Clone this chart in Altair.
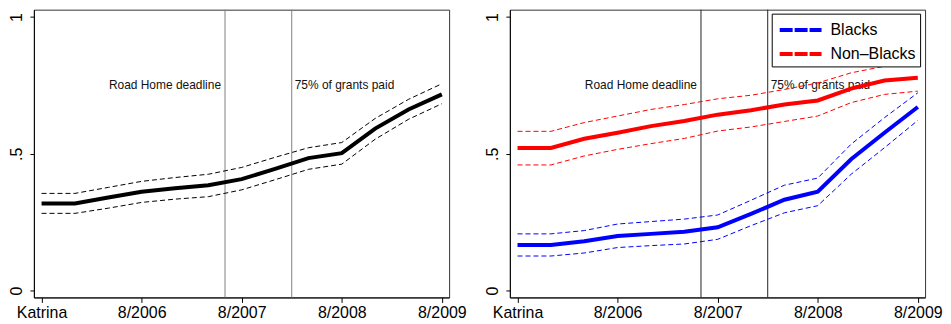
import altair as alt
import pandas as pd

# ---- data ----
months = [0, 4, 8, 12, 16, 20, 24, 28, 32, 36, 40, 44, 48]
tick_months = [0, 12, 24, 36, 48]
tick_labels = ["Katrina", "8/2006", "8/2007", "8/2008", "8/2009"]
event_months = [22, 30]
event_labels = ["Road Home deadline", "75% of grants paid"]
groups = ["Blacks", "Non\u2013Blacks"]

all_mean = [0.318, 0.318, 0.340, 0.361, 0.374, 0.385, 0.407, 0.445, 0.484, 0.502, 0.592, 0.662, 0.717]
all_hi   = [0.355, 0.355, 0.377, 0.399, 0.413, 0.425, 0.450, 0.487, 0.522, 0.541, 0.629, 0.699, 0.756]
all_lo   = [0.282, 0.282, 0.301, 0.322, 0.334, 0.343, 0.368, 0.405, 0.443, 0.462, 0.553, 0.626, 0.683]

blk_mean = [0.166, 0.166, 0.180, 0.199, 0.207, 0.215, 0.231, 0.280, 0.332, 0.361, 0.480, 0.577, 0.671]
blk_hi   = [0.207, 0.207, 0.219, 0.243, 0.252, 0.261, 0.276, 0.330, 0.385, 0.411, 0.535, 0.632, 0.723]
blk_lo   = [0.126, 0.126, 0.137, 0.157, 0.164, 0.170, 0.187, 0.237, 0.284, 0.310, 0.425, 0.522, 0.622]

nb_mean = [0.521, 0.521, 0.555, 0.577, 0.601, 0.620, 0.643, 0.659, 0.680, 0.695, 0.738, 0.768, 0.778]
nb_hi   = [0.582, 0.582, 0.614, 0.638, 0.662, 0.680, 0.701, 0.714, 0.735, 0.759, 0.796, 0.820, 0.831]
nb_lo   = [0.459, 0.459, 0.492, 0.516, 0.537, 0.556, 0.583, 0.598, 0.618, 0.638, 0.687, 0.717, 0.729]

colors = ["#0000ff", "#ff0000"]

# ---- tables ----
df_all = pd.DataFrame({"month": months, "mean": all_mean, "hi": all_hi, "lo": all_lo})
df_grp = pd.concat([
    pd.DataFrame({"month": months, "group": groups[0], "mean": blk_mean, "hi": blk_hi, "lo": blk_lo}),
    pd.DataFrame({"month": months, "group": groups[1], "mean": nb_mean, "hi": nb_hi, "lo": nb_lo}),
])
df_ev = pd.DataFrame({"month": event_months, "label": event_labels,
                      "ypos": [0.75, 0.75], "side": ["r", "l"]})

W, H = 417, 289
FONT = "Liberation Sans"

label_arr = "[" + ",".join("'%s'" % t for t in tick_labels) + "]"
xscale = alt.Scale(domain=[-0.92, 48.87], nice=False, zero=False)
yscale = alt.Scale(domain=[-0.0255, 1.027], nice=False, zero=False)
xaxis = alt.Axis(values=tick_months, labelExpr=label_arr + "[round(datum.value/12)]",
                 title=None, grid=False, tickSize=5, labelFontSize=16, labelPadding=2,
                 labelColor="#000", tickColor="#000", domainColor="#000", labelFont=FONT,
                 labelFlush=False, labelOverlap=False)
yaxis = alt.Axis(values=[0, 0.5, 1],
                 labelExpr="datum.value == 0.5 ? '.5' : (datum.value == 1 ? '1' : '0')",
                 title=None, grid=False, tickSize=4, labelFontSize=16, labelAngle=270,
                 labelAlign="center", labelBaseline="bottom", labelPadding=5,
                 labelColor="#000", tickColor="#000", domainColor="#000", labelFont=FONT)

X = alt.X("month:Q", scale=xscale, axis=xaxis)


def events(rule_color):
    base = alt.Chart(df_ev)
    rules = base.mark_rule(color=rule_color, strokeWidth=1).encode(x=alt.X("month:Q", scale=xscale, axis=xaxis))
    t_r = base.transform_filter("datum.side == 'r'").mark_text(
        align="right", baseline="middle", dx=-4, fontSize=12, font=FONT, color="#111"
    ).encode(x=alt.X("month:Q", scale=xscale), y=alt.Y("ypos:Q", scale=yscale), text="label:N")
    t_l = base.transform_filter("datum.side == 'l'").mark_text(
        align="left", baseline="middle", dx=3, fontSize=12, font=FONT, color="#111"
    ).encode(x=alt.X("month:Q", scale=xscale), y=alt.Y("ypos:Q", scale=yscale), text="label:N")
    return t_r, t_l, rules


# ---- left panel ----
ba = alt.Chart(df_all)
left_lo = ba.mark_line(color="#000", strokeWidth=1, strokeDash=[5, 3]).encode(
    x=X, y=alt.Y("lo:Q", scale=yscale, axis=yaxis))
left_hi = ba.mark_line(color="#000", strokeWidth=1, strokeDash=[5, 3]).encode(
    x=X, y=alt.Y("hi:Q", scale=yscale, axis=yaxis))
left_mean = ba.mark_line(color="#000", strokeWidth=4).encode(
    x=X, y=alt.Y("mean:Q", scale=yscale, axis=yaxis))
lt_r, lt_l, l_rules = events("#7f7f7f")
left = alt.layer(lt_r, lt_l, l_rules, left_lo, left_hi, left_mean).properties(width=W, height=H)

# ---- right panel ----
bg = alt.Chart(df_grp)
cscale = alt.Scale(domain=groups, range=colors)
right_lo = bg.mark_line(strokeWidth=1, strokeDash=[5, 3]).encode(
    x=X, y=alt.Y("lo:Q", scale=yscale, axis=yaxis),
    stroke=alt.Stroke("group:N", scale=cscale, legend=None))
right_hi = bg.mark_line(strokeWidth=1, strokeDash=[5, 3]).encode(
    x=X, y=alt.Y("hi:Q", scale=yscale, axis=yaxis),
    stroke=alt.Stroke("group:N", scale=cscale, legend=None))
right_mean = bg.mark_line(strokeWidth=4).encode(
    x=X, y=alt.Y("mean:Q", scale=yscale, axis=yaxis),
    color=alt.Color("group:N", scale=cscale, sort=groups, legend=alt.Legend(
        title=None, orient="none", legendX=263, legendY=4, direction="vertical",
        strokeColor="#000", fillColor="#fff", padding=4, rowPadding=3,
        symbolType="M-2,0H2", symbolSize=441, symbolStrokeWidth=4, symbolDash=[13, 2],
        symbolOffset=12.5,
        labelFontSize=16, labelFont=FONT, labelColor="#000", labelOffset=17.5, labelLimit=200)))
rt_r, rt_l, r_rules = events("#222")
right = alt.layer(rt_r, rt_l, r_rules, right_lo, right_hi, right_mean).resolve_scale(
    color="independent", stroke="independent").properties(width=W, height=H)

chart = alt.hconcat(left, right, spacing=61, bounds="flush").properties(
    padding={"left": 0, "top": 0, "right": 0, "bottom": 0}
).configure_view(stroke="#333", strokeWidth=1).configure_axis(domainWidth=1, tickWidth=1)

chart.save("out.html", embed_options={"renderer": "svg", "actions": False})
